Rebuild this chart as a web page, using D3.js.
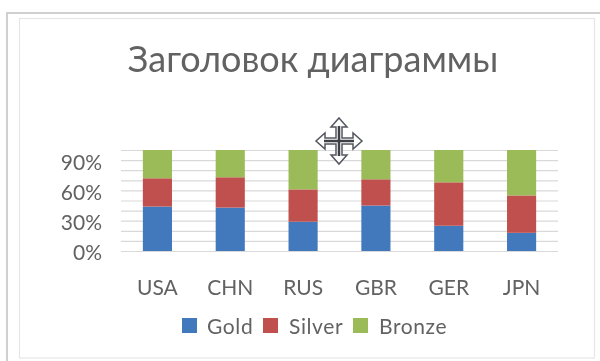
<!DOCTYPE html>
<html lang="ru">
<head>
<meta charset="UTF-8">
<title>Chart</title>
<script src="https://d3js.org/d3.v7.min.js"></script>
<style>
  html, body { margin: 0; padding: 0; background: #fff; }
  svg { display: block; font-family: Lato, "Open Sans", sans-serif; filter: blur(0.55px); }
</style>
</head>
<body>
<div id="chart"></div>
<script>
var titleText = "Заголовок диаграммы"
var categories = ["USA", "CHN", "RUS", "GBR", "GER", "JPN"]
var seriesNames = ["Gold", "Silver", "Bronze"]
var gold = [44, 43, 29, 45, 25, 18]
var silver = [28, 30, 32, 26, 43, 37]
var bronze = [28, 27, 39, 29, 32, 45]
var yTicks = [0, 30, 60, 90]
var gridTicks = [0, 10, 20, 30, 40, 50, 60, 70, 80, 90, 100]
var colors = ["#4279bd", "#c0504d", "#9bbb59"]
var textColor = "#626262"

var width = 600, height = 361

var svg = d3.select("#chart").append("svg")
  .attr("width", width)
  .attr("height", height)

// frame: outer one only shows left and top, inner one is lighter
svg.append("path")
  .attr("d", "M7,361V13H600")
  .attr("fill", "none").attr("stroke", "#d0d0d0").attr("stroke-width", 2)
svg.append("rect")
  .attr("x", 19.5).attr("y", 18.5)
  .attr("width", 575).attr("height", 339.5)
  .attr("fill", "none").attr("stroke", "#e6e6e6").attr("stroke-width", 1.2)

svg.append("text")
  .attr("x", 313).attr("y", 72)
  .attr("text-anchor", "middle")
  .attr("font-size", 36)
  .attr("fill", textColor)
  .text(titleText)

var x = d3.scaleBand()
  .domain(categories)
  .range([121, 558])
  .paddingInner(0.6)
  .paddingOuter(0.3)

var y = d3.scaleLinear().domain([0, 100]).range([251, 150])

// gridlines
svg.append("g")
  .selectAll("line")
  .data(gridTicks)
  .enter()
  .append("line")
  .attr("x1", 121).attr("x2", 558)
  .attr("y1", function(d) { return y(d) + 0.5 })
  .attr("y2", function(d) { return y(d) + 0.5 })
  .attr("stroke", "#d9d9d9")
  .attr("stroke-width", 1.2)

// y labels
var yAxis = svg.append("g")
  .attr("transform", "translate(102,1)")
  .call(d3.axisLeft(y).tickValues(yTicks).tickSize(0).tickPadding(0).tickFormat(function(d) { return d + "%" }))
yAxis.select(".domain").remove()
yAxis.selectAll("text")
  .attr("font-family", "Lato, 'Open Sans', sans-serif")
  .attr("font-size", 21)
  .attr("fill", textColor)
  .attr("dy", "0.38em")

// stacked bars
var rows = categories.map(function(c, i) {
  return { cat: c, Gold: gold[i], Silver: silver[i], Bronze: bronze[i] }
})
var stack = d3.stack().keys(seriesNames)(rows)

svg.selectAll("g.serie")
  .data(stack)
  .enter()
  .append("g")
  .attr("class", "serie")
  .attr("fill", function(d, i) { return colors[i] })
  .selectAll("rect")
  .data(function(d) { return d })
  .enter()
  .append("rect")
  .attr("x", function(d) { return x(d.data.cat) })
  .attr("width", x.bandwidth())
  .attr("y", function(d) { return y(d[1]) })
  .attr("height", function(d) { return y(d[0]) - y(d[1]) })

// x labels
var xAxis = svg.append("g")
  .attr("transform", "translate(0,280)")
  .call(d3.axisBottom(x).tickSize(0).tickPadding(0))
xAxis.select(".domain").remove()
xAxis.selectAll("text")
  .attr("font-family", "Lato, 'Open Sans', sans-serif")
  .attr("font-size", 21)
  .attr("fill", textColor)
  .attr("dy", "0.71em")

// legend
var legendX = [182, 263, 353]
var legendTextX = [25, 26, 26]
var legend = svg.append("g")
  .selectAll("g")
  .data(seriesNames)
  .enter()
  .append("g")
  .attr("transform", function(d, i) { return "translate(" + legendX[i] + ",318)" })
legend.append("rect")
  .attr("width", 15).attr("height", 15)
  .attr("fill", function(d, i) { return colors[i] })
legend.append("text")
  .attr("x", function(d, i) { return legendTextX[i] }).attr("y", 16)
  .attr("font-size", 21)
  .attr("letter-spacing", 0.6)
  .attr("fill", textColor)
  .text(function(d) { return d })

// move cursor sitting over the chart
var cursor = svg.append("g").attr("transform", "translate(339,141)")
var arrow = "M0,-23L8,-14H3V-3H14V-8L23,0L14,8V3H3V14H8L0,23L-8,14H-3V3H-14V8L-23,0L-14,-8V-3H-3V-14H-8Z"
cursor.append("path")
  .attr("d", arrow)
  .attr("fill", "#fff").attr("stroke", "#55585f").attr("stroke-width", 1.5)
cursor.append("path")
  .attr("d", "M-15,0H15M0,-15V15")
  .attr("stroke", "#3d4047").attr("stroke-width", 2.5)
</script>
</body>
</html>
